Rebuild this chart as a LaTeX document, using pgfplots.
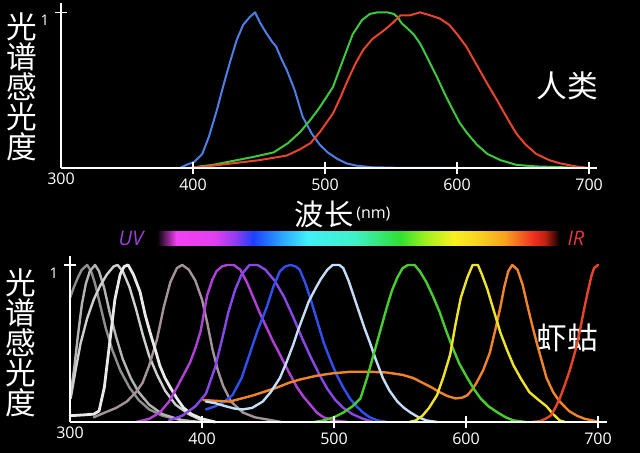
\documentclass[border=0pt]{standalone}
\usepackage{pgfplots}
\pgfplotsset{compat=1.18}
\usepackage{fontspec}
\setmainfont{Open Sans}
\newfontfamily\cjk{Noto Sans CJK SC}
\definecolor{tblue}{HTML}{4F7EE8}
\definecolor{tgreen}{HTML}{3EC83E}
\definecolor{tred}{HTML}{E8452C}
\definecolor{cA}{HTML}{8E8E8E}
\definecolor{cB}{HTML}{B4B4B4}
\definecolor{cC}{HTML}{CFCFCF}
\definecolor{cD}{HTML}{EAEAEA}
\definecolor{cE}{HTML}{A4949A}
\definecolor{cF}{HTML}{B040D8}
\definecolor{cG}{HTML}{8848E8}
\definecolor{cH}{HTML}{3050F0}
\definecolor{cI}{HTML}{C4DEF8}
\definecolor{cJ}{HTML}{48CC30}
\definecolor{cK}{HTML}{F0E428}
\definecolor{cL}{HTML}{F08428}
\definecolor{cM}{HTML}{E84428}
\definecolor{uvc}{HTML}{9A40D8}
\definecolor{irc}{HTML}{E03838}
\pgfplotsset{myax/.style={
  scale only axis, axis lines=left, axis on top, clip=false,
  axis line style={white, line width=1.5pt, -},
  xtick={400,500,600,700}, extra x ticks={300},
  extra x tick style={major tick length=0pt},
  ytick={1},
  tick align=center, major tick length=9pt,
  tick style={white, line width=1.2pt},
  ticklabel style={text=white},
  xticklabel style={font=\fontsize{12}{12}\selectfont},
  yticklabel style={font=\fontsize{11}{11}\selectfont, yshift=-6pt, xshift=-1pt},
  /pgf/number format/assume math mode=true,
  every axis plot/.append style={line join=round, line cap=round, no markers},
}}
\begin{document}
\begin{tikzpicture}
\fill[black] (0,0) rectangle (480pt,-339.75pt);
\begin{scope}[x=0.75pt,y=-0.75pt]
\node[text=white, font=\cjk\fontsize{23}{22.5}\selectfont, align=center, inner sep=0pt] at (22,87) {光\\谱\\感\\光\\度};
\node[text=white, font=\cjk\fontsize{23}{22.5}\selectfont, align=center, inner sep=0pt] at (21,343) {光\\谱\\感\\光\\度};
\node[text=white, font=\cjk\fontsize{23}{23}\selectfont, inner sep=0pt] at (567,86) {人类};
\node[text=white, font=\cjk\fontsize{23}{23}\selectfont, inner sep=0pt] at (567,338) {虾蛄};
\node[text=white, font=\cjk\fontsize{22}{22}\selectfont, inner sep=0pt] at (324,214) {波长};
\node[text=white, font=\fontsize{12}{12}\selectfont, inner sep=0pt, anchor=west] at (356,214) {(nm)};
\node[text=uvc, font=\itshape\fontsize{15}{15}\selectfont, inner sep=0pt] at (131,238) {UV};
\node[text=irc, font=\itshape\fontsize{15}{15}\selectfont, inner sep=0pt] at (576,238) {IR};
\shade[left color=black, right color={rgb,255:red,244;green,64;blue,244}] (157,231) rectangle (176.5,245);
\shade[left color={rgb,255:red,244;green,64;blue,244}, right color={rgb,255:red,224;green,64;blue,240}] (176,231) rectangle (215.5,245);
\shade[left color={rgb,255:red,224;green,64;blue,240}, right color={rgb,255:red,138;green,60;blue,240}] (215,231) rectangle (237.5,245);
\shade[left color={rgb,255:red,138;green,60;blue,240}, right color={rgb,255:red,26;green,64;blue,255}] (237,231) rectangle (253.5,245);
\shade[left color={rgb,255:red,26;green,64;blue,255}, right color={rgb,255:red,42;green,160;blue,255}] (253,231) rectangle (280.5,245);
\shade[left color={rgb,255:red,42;green,160;blue,255}, right color={rgb,255:red,64;green,240;blue,248}] (280,231) rectangle (307.5,245);
\shade[left color={rgb,255:red,64;green,240;blue,248}, right color={rgb,255:red,64;green,240;blue,200}] (307,231) rectangle (355.5,245);
\shade[left color={rgb,255:red,64;green,240;blue,200}, right color={rgb,255:red,48;green,224;blue,48}] (355,231) rectangle (400.5,245);
\shade[left color={rgb,255:red,48;green,224;blue,48}, right color={rgb,255:red,160;green,240;blue,32}] (400,231) rectangle (425.5,245);
\shade[left color={rgb,255:red,160;green,240;blue,32}, right color={rgb,255:red,248;green,240;blue,32}] (425,231) rectangle (453.5,245);
\shade[left color={rgb,255:red,248;green,240;blue,32}, right color={rgb,255:red,248;green,208;blue,32}] (453,231) rectangle (480.5,245);
\shade[left color={rgb,255:red,248;green,208;blue,32}, right color={rgb,255:red,248;green,160;blue,32}] (480,231) rectangle (505.5,245);
\shade[left color={rgb,255:red,248;green,160;blue,32}, right color={rgb,255:red,240;green,48;blue,32}] (505,231) rectangle (533.5,245);
\shade[left color={rgb,255:red,240;green,48;blue,32}, right color={rgb,255:red,192;green,32;blue,16}] (533,231) rectangle (545.5,245);
\shade[left color={rgb,255:red,192;green,32;blue,16}, right color=black] (545,231) rectangle (560,245);
\end{scope}

\begin{axis}[myax, at={(45.75pt,-126pt)}, anchor=south west,
  width=402pt, height=123.75pt, xmin=300, xmax=706, ymin=0, ymax=1.06]
\addplot[tblue, line width=1.5pt] coordinates {(390,0.0)(395,0.02)(401,0.04)(407,0.09)(412,0.2)(418,0.37)(423,0.53)(428,0.68)(433,0.82)(438,0.92)(443,0.97)(447,1.0)(451,0.93)(456,0.86)(460,0.81)(463,0.78)(467,0.7)(471,0.63)(477,0.5)(483,0.33)(490,0.22)(496,0.15)(502,0.1)(509,0.06)(516,0.03)(524,0.015)(535,0.005)(560,0)(600,0)};
\addplot[tgreen, line width=1.5pt] coordinates {(400,0)(405,0.01)(415,0.02)(430,0.045)(445,0.07)(461,0.10)(472,0.16)(481,0.23)(489,0.31)(496,0.39)(506,0.52)(513,0.68)(521,0.86)(528,0.95)(534,0.99)(540,1.0)(547,1.0)(552,0.99)(555,0.97)(558,0.93)(562,0.9)(567,0.86)(572,0.8)(578,0.7)(585,0.58)(591,0.47)(597,0.37)(602,0.29)(608,0.22)(615,0.15)(623,0.09)(633,0.05)(645,0.02)(660,0.01)(680,0.005)(690,0)};
\addplot[tred, line width=1.5pt] coordinates {(395,0)(410,0.01)(430,0.03)(450,0.05)(471,0.08)(481,0.12)(489,0.16)(496,0.23)(506,0.35)(512,0.46)(517,0.56)(523,0.67)(529,0.76)(536,0.83)(544,0.88)(551,0.93)(557,0.98)(564,0.98)(568,0.99)(572,1.0)(580,0.98)(587,0.96)(594,0.92)(600,0.86)(607,0.78)(615,0.66)(623,0.54)(630,0.44)(638,0.32)(645,0.22)(652,0.15)(660,0.09)(670,0.05)(678,0.03)(690,0.01)(700,0)};
\end{axis}

\begin{axis}[myax, at={(52.5pt,-316.5pt)}, anchor=south west,
  width=402.75pt, height=124.5pt, xmin=300, xmax=706.8, ymin=0, ymax=1.057]
\addplot[cA, line width=1.8pt] coordinates {(300,0.79)(303,0.86)(306,0.92)(309,0.97)(313,1.0)(316,0.96)(319,0.88)(323,0.74)(327,0.6)(332,0.46)(338,0.33)(345,0.22)(352,0.14)(360,0.08)(370,0.04)(380,0.02)(395,0.0)};
\addplot[cB, line width=1.8pt] coordinates {(300.5,0.18)(303,0.33)(306,0.55)(309,0.75)(312,0.88)(315,0.96)(319,1.0)(322,0.96)(326,0.85)(330,0.7)(335,0.54)(340,0.4)(346,0.28)(352,0.19)(360,0.11)(370,0.05)(385,0.01)(400,0)};
\addplot[cC, line width=1.8pt] coordinates {(300.5,0.15)(304,0.32)(308,0.5)(313,0.66)(318,0.78)(323,0.87)(328,0.94)(333,0.99)(336,1.0)(340,0.96)(345,0.86)(350,0.72)(355,0.56)(360,0.42)(366,0.3)(372,0.2)(380,0.11)(390,0.05)(400,0.01)};
\addplot[cE, line width=1.8pt] coordinates {(318,0.03)(325,0.055)(335,0.09)(343,0.13)(350,0.19)(355,0.25)(360,0.36)(366,0.53)(371,0.73)(376,0.89)(381,0.98)(385,1.0)(390,0.97)(395,0.9)(400,0.78)(404,0.63)(408,0.46)(412,0.33)(416,0.23)(422,0.13)(431,0.06)(440,0.03)(450,0.015)(460,0)};
\addplot[cD, line width=2.1pt] coordinates {(300,0.04)(310,0.045)(318,0.05)(322,0.07)(326,0.22)(330,0.5)(334,0.78)(338,0.94)(341,0.99)(344,1.0)(348,0.94)(353,0.83)(357,0.68)(361,0.56)(365,0.45)(368,0.36)(372,0.28)(376,0.22)(381,0.15)(386,0.09)(392,0.05)(400,0.02)(410,0.0)};
\addplot[cF, line width=1.8pt] coordinates {(350,0.0)(360,0.02)(368,0.06)(375,0.13)(381,0.22)(386,0.3)(391,0.38)(395,0.47)(399,0.58)(402,0.72)(404,0.81)(408,0.91)(411,0.96)(415,0.99)(419,1.0)(424,1.0)(429,0.97)(434,0.89)(439,0.79)(444,0.69)(449,0.6)(454,0.51)(459,0.43)(465,0.33)(472,0.22)(477,0.16)(482,0.11)(487,0.06)(492,0.03)(500,0.01)(510,0)};
\addplot[cG, line width=1.8pt] coordinates {(375,0.01)(385,0.04)(395,0.1)(403,0.18)(410,0.35)(415,0.52)(420,0.7)(425,0.84)(430,0.94)(436,1.0)(442,1.0)(448,0.97)(455,0.9)(462,0.8)(469,0.67)(476,0.53)(482,0.42)(489,0.3)(495,0.21)(501,0.14)(507,0.09)(514,0.05)(522,0.02)(530,0.0)};
\addplot[cH, line width=1.8pt] coordinates {(403,0.08)(410,0.1)(417,0.13)(423,0.17)(430,0.28)(436,0.43)(442,0.58)(449,0.73)(454,0.86)(459,0.96)(463,0.99)(467,1.0)(471,0.99)(474,0.97)(478,0.89)(482,0.79)(487,0.65)(492,0.51)(497,0.4)(502,0.3)(507,0.22)(512,0.15)(517,0.1)(522,0.06)(527,0.03)(533,0.01)(540,0)};
\addplot[cL, line width=1.8pt] coordinates {(401,0.14)(410,0.135)(421,0.13)(430,0.15)(439,0.17)(448,0.195)(457,0.22)(466,0.25)(474,0.27)(487,0.295)(499,0.31)(513,0.32)(527,0.32)(540,0.315)(552,0.3)(560,0.28)(567,0.25)(574,0.22)(580,0.19)(586,0.165)(592,0.15)(597,0.155)(601,0.17)(605,0.21)(608,0.25)(613,0.33)(618,0.44)(622,0.58)(626,0.73)(629,0.86)(632,0.96)(635,1.0)(639,0.97)(643,0.87)(646,0.76)(650,0.62)(654,0.49)(658,0.37)(661,0.28)(666,0.19)(671,0.13)(678,0.07)(684,0.04)(690,0.02)(696,0.01)(700,0)};
\addplot[cI, line width=1.8pt] coordinates {(403,0.13)(410,0.12)(418,0.1)(425,0.085)(431,0.08)(438,0.09)(446,0.13)(452,0.19)(459,0.28)(464,0.38)(469,0.49)(473,0.59)(477,0.68)(481,0.77)(486,0.85)(490,0.91)(495,0.97)(499,1.0)(504,1.0)(507,0.98)(511,0.9)(515,0.8)(519,0.7)(523,0.6)(527,0.51)(532,0.39)(537,0.28)(542,0.2)(548,0.13)(553,0.09)(558,0.06)(564,0.03)(570,0.01)(578,0)};
\addplot[cJ, line width=1.8pt] coordinates {(485,0)(492,0.01)(500,0.03)(507,0.06)(514,0.1)(520,0.15)(525,0.28)(530,0.43)(535,0.58)(540,0.73)(544,0.84)(548,0.92)(552,0.98)(556,1.0)(561,1.0)(565,0.96)(570,0.89)(575,0.8)(580,0.7)(585,0.58)(590,0.47)(595,0.37)(601,0.28)(606,0.21)(611,0.15)(617,0.1)(624,0.06)(630,0.03)(636,0.01)(645,0)};
\addplot[cK, line width=1.8pt] coordinates {(557,0)(562,0.01)(567,0.04)(572,0.09)(578,0.17)(583,0.29)(588,0.43)(592,0.62)(596,0.79)(601,0.92)(605,1.0)(609,1.0)(612,0.94)(616,0.85)(621,0.71)(626,0.57)(631,0.46)(636,0.36)(642,0.27)(648,0.19)(655,0.14)(661,0.1)(666,0.05)(671,0.01)(675,0)};
\addplot[cM, line width=1.8pt] coordinates {(650,0)(656,0.005)(660,0.02)(664,0.04)(667,0.08)(671,0.15)(675,0.24)(679,0.34)(683,0.46)(686,0.57)(689,0.7)(692,0.82)(695,0.93)(697,0.98)(700,1.0)};
\end{axis}
\pgfresetboundingbox
\useasboundingbox (0,0) rectangle (480pt,-339.75pt);
\end{tikzpicture}
\end{document}
